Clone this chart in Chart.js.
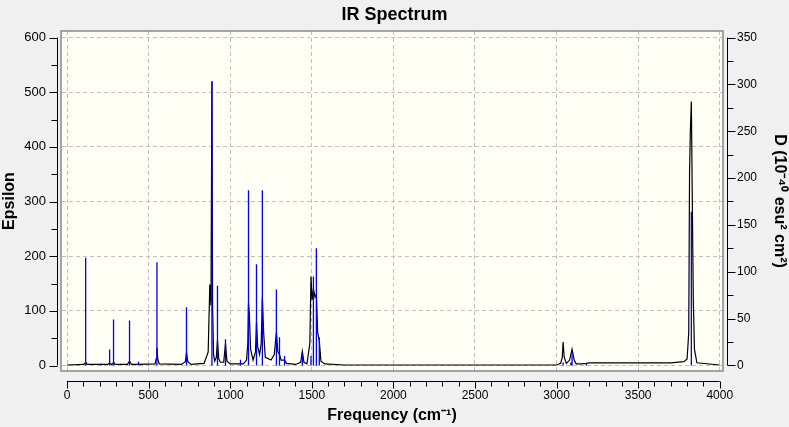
<!DOCTYPE html>
<html><head><meta charset="utf-8">
<script src="https://cdn.jsdelivr.net/npm/chart.js@4/dist/chart.umd.min.js"></script>
<style>html,body{margin:0;padding:0;background:#f0f0f0}#w{width:789px;height:427px}</style>
</head><body><div id="w"><canvas id="c"></canvas></div>
<script>
const stickFreq = [114,210,261,285,383,438,551,732,888,922,971,1063,1112,1161,1197,1283,1302,1333,1442,1495,1510,1528,1546,3040,3088,3095,3183,3826];
const stickD    = [115,2,17,49,48,4,110,62,303,85,28,6,187,108,187,81,30,10,13,10,95,125,30,3,3,14,2,164];
const specFreq = [0,100,108,114,120,130,250,261,270,280,285,292,300,370,383,395,440,540,546,551,556,565,700,725,732,740,760,840,865,875,882,888,892,898,905,915,922,930,940,960,971,980,1000,1080,1100,1108,1112,1117,1125,1140,1155,1161,1168,1180,1190,1197,1205,1215,1250,1270,1283,1292,1302,1312,1333,1345,1400,1432,1442,1452,1470,1488,1495,1502,1510,1520,1528,1536,1546,1556,1580,1700,2900,3000,3025,3035,3040,3047,3060,3080,3095,3108,3120,3150,3183,3200,3500,3700,3780,3800,3810,3815,3820,3826,3832,3838,3845,3860,4000];
const specEps  = [1,2,3,6,3,2,2,5,2,3,6,3,2,2,8,2,2,3,12,33,12,3,2,7,24,7,2,4,25,148,110,520,110,20,8,15,46,12,6,6,40,8,3,3,10,40,115,95,30,10,25,80,35,20,40,125,60,15,10,20,61,25,20,10,10,4,2,6,26,6,3,40,163,120,140,125,130,60,45,8,3,1,1,1,4,15,43,15,4,10,30,10,3,3,4,5,5,5,7,12,60,353,430,483,298,120,30,5,1];
const xTicks = [0,500,1000,1500,2000,2500,3000,3500,4000];
const yTicks = [0,100,200,300,400,500,600];
const y2Ticks = [0,50,100,150,200,250,300,350];

const spec = specFreq.map((f,i)=>({x:f,y:specEps[i]}));
const sticks = [];
stickFreq.forEach((f,i)=>{sticks.push({x:f,y:0},{x:f,y:stickD[i]},{x:f,y:null});});

const F = 'Liberation Sans, Arial, sans-serif';
const fixTicks = arr => (s)=>{ s.ticks = arr.map(v=>({value:v})); };
const plain = v => String(v);
const bgPlugin = {id:'bg', beforeDraw(ch){const {ctx,chartArea:a}=ch;ctx.save();ctx.fillStyle='#fffff5';ctx.fillRect(a.left,a.top,a.right-a.left,a.bottom-a.top);ctx.restore();},
 afterDraw(ch){const {ctx,chartArea:a,scales}=ch;ctx.save();ctx.strokeStyle='#888';ctx.lineWidth=1.5;ctx.strokeRect(a.left,a.top,a.right-a.left,a.bottom-a.top);
  ctx.strokeStyle='#000';ctx.lineWidth=1;
  const by=a.bottom+10.5; ctx.beginPath();ctx.moveTo(scales.x.getPixelForValue(0),by);ctx.lineTo(scales.x.getPixelForValue(4000),by);
  for(let v=0;v<=4000;v+=100){const px=Math.round(scales.x.getPixelForValue(v))+0.5;ctx.moveTo(px,by);ctx.lineTo(px,by+(v%500?5:7));}
  const lx=a.left-3.5; ctx.moveTo(lx,scales.y.getPixelForValue(0));ctx.lineTo(lx,scales.y.getPixelForValue(600));
  for(let v=0;v<=600;v+=50){const py=Math.round(scales.y.getPixelForValue(v))+0.5;ctx.moveTo(lx,py);ctx.lineTo(lx-(v%100?6:8),py);}
  const rx=a.right+4.5; ctx.moveTo(rx,scales.y2.getPixelForValue(0));ctx.lineTo(rx,scales.y2.getPixelForValue(350));
  for(let v=0;v<=350;v+=25){const py=Math.round(scales.y2.getPixelForValue(v))+0.5;ctx.moveTo(rx,py);ctx.lineTo(rx+(v%50?6:8),py);}
  ctx.stroke();ctx.restore();}};

new Chart(document.getElementById('c'),{
 type:'line',
 data:{datasets:[
  {data:sticks,yAxisID:'y2',borderColor:'#0000ff',borderWidth:1.3,pointRadius:0,spanGaps:false,order:0},
  {data:spec,yAxisID:'y',borderColor:'#000',borderWidth:1.2,pointRadius:0,tension:0,order:1}
 ]},
 options:{responsive:true,maintainAspectRatio:false,animation:false,
  layout:{padding:0},
  plugins:{legend:{display:false},tooltip:{enabled:false},
   title:{display:true,text:'IR Spectrum',font:{family:F,size:18,weight:'bold'},color:'#000',padding:{top:4,bottom:5.4}}},
  scales:{
   x:{type:'linear',min:-37,max:4020,afterBuildTicks:fixTicks(xTicks),afterFit(s){s.height=56;},
    grid:{color:'#c0c0c0',drawTicks:false},border:{display:true,color:'rgba(0,0,0,0)',dash:[4,3]},
    ticks:{padding:17,color:'#000',font:{family:F,size:12},callback:plain,maxRotation:0},
    title:{display:true,text:'Frequency (cm⁻¹)',color:'#000',font:{family:F,size:16,weight:'bold'},padding:{top:0,bottom:2}}},
   y:{type:'linear',position:'left',min:-10,max:612,afterBuildTicks:fixTicks(yTicks),afterFit(s){s.width=61;},
    grid:{color:'#c0c0c0',drawTicks:false},border:{display:true,color:'rgba(0,0,0,0)',dash:[4,3]},
    ticks:{padding:15,color:'#000',font:{family:F,size:13},callback:plain},
    title:{display:true,text:'Epsilon',color:'#000',font:{family:F,size:16,weight:'bold'},padding:{top:0,bottom:0}}},
   y2:{type:'linear',position:'right',min:-6,max:357,afterBuildTicks:fixTicks(y2Ticks),afterFit(s){s.width=66;},
    grid:{display:false,drawTicks:false},border:{display:false},
    ticks:{padding:14,color:'#000',font:{family:F,size:12},callback:plain},
    title:{display:true,text:'D (10⁻⁴⁰ esu² cm²)',color:'#000',font:{family:F,size:16,weight:'bold'},padding:{top:0,bottom:2}}}
  }},
 plugins:[bgPlugin]
});
</script></body></html>
